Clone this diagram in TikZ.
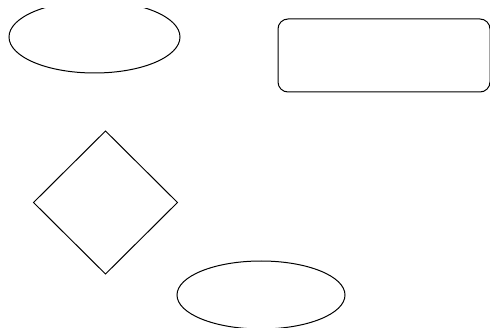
\documentclass[tikz,border=0pt]{standalone}
\usetikzlibrary{shapes.geometric}
\tikzset{
  shape line/.style={draw=black, line width=1pt, inner sep=0pt, outer sep=0pt},
  oval/.style={shape line, ellipse},
  roundbox/.style={shape line, rectangle, rounded corners=10pt},
  rhombus/.style={shape line, diamond}
}
\begin{document}
\begin{tikzpicture}[x=1pt, y=-1pt]
\useasboundingbox (0,0) rectangle (490,331);
\begin{scope}
\clip (0,9) rectangle (490,327.5);
% top left oval, cut by the upper edge
\node[oval, minimum width=171pt, minimum height=72pt] (ovalA) at (94.5,37) {};
% rounded box on the right
\node[roundbox, minimum width=212pt, minimum height=73pt] (box) at (384,55.5) {};
% diamond
\node[rhombus, minimum width=144pt, minimum height=143pt] (rhomb) at (105.5,202.5) {};
% bottom oval
\node[oval, minimum width=168pt, minimum height=68pt] (ovalB) at (261,295) {};
\end{scope}
\end{tikzpicture}
\end{document}
